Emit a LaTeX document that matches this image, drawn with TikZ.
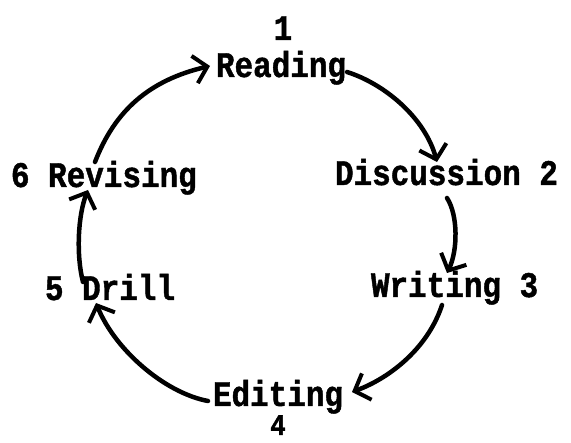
\documentclass[tikz,border=0pt]{standalone}
\usepackage{fontspec}
\setmainfont{Liberation Mono}[BoldFeatures={FakeBold=1.2,FakeStretch=0.86}]
\usetikzlibrary{arrows.meta}
\begin{document}
\begin{tikzpicture}[x=1pt,y=-1pt,
  lbl/.style={anchor=base west,inner sep=0pt,outer sep=0pt,font=\fontsize{36}{36}\selectfont\bfseries},
  num/.style={anchor=base,inner sep=0pt,outer sep=0pt,font=\fontsize{36}{36}\selectfont\bfseries},
  flow/.style={line width=4.5pt,line cap=round,-{Straight Barb[length=13pt,width=28pt,line width=4pt]}}]
\useasboundingbox (0,0) rectangle (571,443);
% labels
\node[num] (n1) at (283,40) {1};
\node[lbl] (read) at (216,77) {Reading};
\node[lbl] (disc) at (335,185) {Discussion 2};
\node[lbl] (writ) at (371,297) {Writing 3};
\node[lbl] (edit) at (213,406) {Editing};
\node[num,font=\fontsize{30}{30}\selectfont\bfseries] (n4) at (278,435) {4};
\node[lbl] (drill) at (45,300) {5 Drill};
\node[lbl] (rev) at (11,187) {6 Revising};
% connector ends
\coordinate (r1) at (347,72);
\coordinate (d0) at (437,162);
\coordinate (d1) at (447,198);
\coordinate (w0) at (447,273);
\coordinate (w1) at (442,305);
\coordinate (e0) at (352,392);
\coordinate (e1) at (208,401);
\coordinate (dr0) at (96,303);
\coordinate (dr1) at (83,282);
\coordinate (rv0) at (88,190);
\coordinate (rv1) at (95,162);
\coordinate (r0) at (210,66);
% connectors
\draw[flow] (r1) .. controls (385,84) and (425,118) .. (d0);
\draw[flow] (d1) .. controls (458,215) and (458,250) .. (w0);
\draw[flow] (w1) .. controls (428,348) and (390,378) .. (e0);
\draw[flow] (e1) .. controls (165,393) and (115,350) .. (dr0);
\draw[flow] (dr1) .. controls (76,255) and (78,215) .. (rv0);
\draw[flow] (rv1) .. controls (115,110) and (150,80) .. (r0);
\end{tikzpicture}
\end{document}
